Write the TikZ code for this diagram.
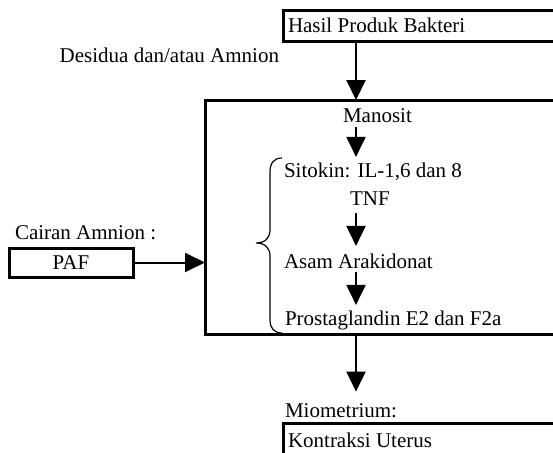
\documentclass[tikz,border=0pt]{standalone}
\usepackage{fontspec}
\setmainfont{Liberation Serif}
\usetikzlibrary{arrows.meta}
\begin{document}
\begin{tikzpicture}[x=1pt,y=-1pt,
  box/.style={draw, line width=3pt, outer sep=0pt, inner sep=0pt, anchor=north west},
  txt/.style={inner sep=0pt, outer sep=0pt, font=\fontsize{21}{25}\selectfont},
  arr/.style={line width=2pt, -{Triangle[length=20pt,width=19pt]}},
  bracestyle/.style={line width=1.2pt}]
\useasboundingbox (0,0) rectangle (553,452);
\clip (0,0) rectangle (553,452);
\coordinate (ax) at (356,0);
% boxes
\node[box, minimum width=340pt, minimum height=31pt] (bakteri) at (283,11) {};
\node[box, minimum width=400pt, minimum height=234pt] (main) at (205,100) {};
\node[box, minimum width=124pt, minimum height=29pt] (paf) at (9,248) {};
\node[box, minimum width=340pt, minimum height=60pt] (uterus) at (283,423) {};
% texts
\node[txt, anchor=base west] (bakteritxt) at (288,33) {Hasil Produk Bakteri};
\node[txt, anchor=base east] (desidua) at (279,63) {Desidua dan/atau Amnion};
\node[txt, anchor=base west] (manosit) at (343,122) {Manosit};
\node[txt, anchor=base west] (sitokin) at (284,177) {Sitokin: IL-1,6 dan 8};
\node[txt, anchor=base west] (tnf) at (350,205) {TNF};
\node[txt, anchor=base west] (asam) at (284,268) {Asam Arakidonat};
\node[txt, anchor=base west] (prost) at (285,325) {Prostaglandin E2 dan F2a};
\node[txt, anchor=base west] (cairan) at (15,239) {Cairan Amnion :};
\node[txt] (paftxt) at (paf.center) {PAF};
\node[txt, anchor=base west] (miom) at (285,417) {Miometrium:};
\node[txt, anchor=base west] (uterustxt) at (288,447) {Kontraksi Uterus};
% arrows
\draw[arr] (bakteri.south -| ax) -- (main.north -| ax);
\draw[arr, shorten <=5pt, shorten >=5.5pt] (manosit.south -| ax) -- (sitokin.north -| ax);
\draw[arr, shorten <=8pt, shorten >=7.5pt] (tnf.south -| ax) -- (asam.north -| ax);
\draw[arr, shorten <=4pt, shorten >=5.5pt] (asam.south -| ax) -- (prost.north -| ax);
\draw[arr] (paf.east) -- (paf.east -| main.west);
\draw[arr, shorten >=11.5pt] (main.south -| ax) -- (miom.north -| ax);
% brace
\draw[bracestyle] (282,158) .. controls (274,158) and (270,163) .. (270,172) -- (270,230)
  .. controls (270,238) and (265,243) .. (256,243)
  .. controls (265,243) and (270,248) .. (270,256) -- (270,320)
  .. controls (270,328) and (274,333) .. (282,333);
\end{tikzpicture}
\end{document}
